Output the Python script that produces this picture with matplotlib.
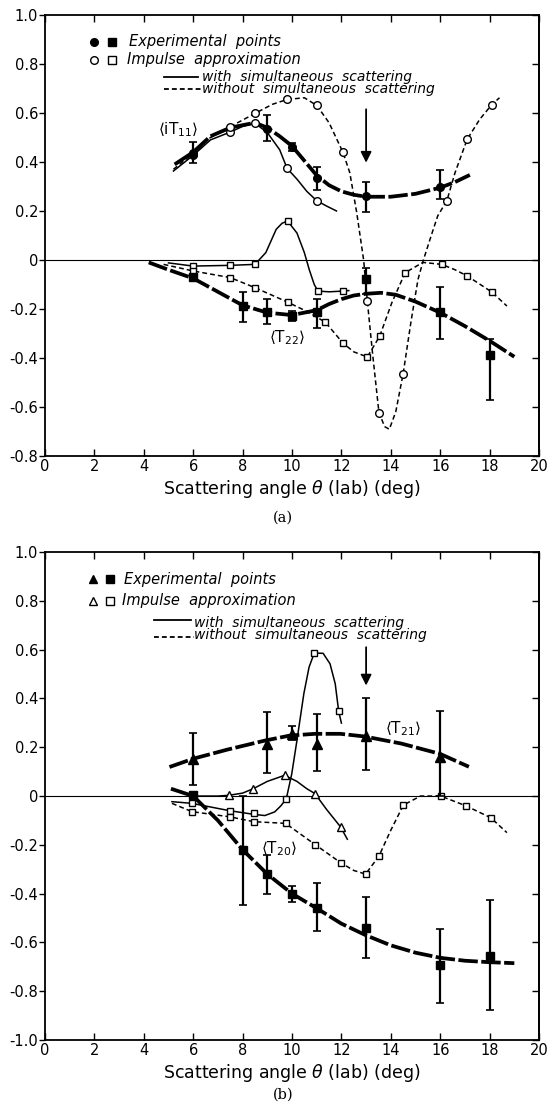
import matplotlib
matplotlib.use("Agg")
from matplotlib import pyplot as plt

plt.rcParams["font.family"] = ["DejaVu Sans"]
plt.rcParams["lines.scale_dashes"] = False
plt.rcParams["mathtext.fontset"] = "dejavusans"

# ---------------- panel (a): <iT11> and <T22> ----------------
it11_x = [6, 9, 10, 11, 13, 16]
it11_y = [0.431, 0.536, 0.462, 0.336, 0.261, 0.299]
it11_lo = [0.036, 0.05, 0.017, 0.05, 0.064, 0.051]
it11_hi = [0.049, 0.054, 0.017, 0.045, 0.057, 0.068]

it11_fit_x = [5.25, 6.0, 6.7, 7.5, 8.5, 9.0, 9.5, 10.0, 10.5, 11.0, 11.5, 12.0, 12.5, 13.0, 14.0, 15.0, 16.0, 16.6, 17.2]
it11_fit_y = [0.39, 0.44, 0.505, 0.54, 0.56, 0.54, 0.505, 0.465, 0.405, 0.345, 0.305, 0.28, 0.266, 0.258, 0.258, 0.27, 0.295, 0.318, 0.347]

it11_ss_x = [5.2, 6.0, 6.7, 7.5, 8.0, 8.5, 9.0, 9.5, 9.8, 10.2, 10.6, 11.0, 11.4, 11.8]
it11_ss_y = [0.363, 0.427, 0.49, 0.522, 0.545, 0.558, 0.52, 0.45, 0.374, 0.33, 0.28, 0.242, 0.22, 0.2]
it11_ss_px = [6, 7.5, 8.5, 9.8, 11.0]
it11_ss_py = [0.427, 0.522, 0.558, 0.374, 0.242]

it11_ns_x = [5.2, 6.0, 6.7, 7.5, 8.5, 9.2, 9.8, 10.5, 11.0, 11.5, 12.06, 12.34, 12.62, 12.9, 13.05, 13.26,
             13.52, 13.75, 13.94, 14.2, 14.5, 14.82, 15.1, 15.32, 15.67, 15.9, 16.27, 16.6, 17.09, 17.6, 18.09, 18.4]
it11_ns_y = [0.37, 0.435, 0.5, 0.544, 0.598, 0.635, 0.655, 0.662, 0.631, 0.56, 0.44, 0.356, 0.193, 0.0, -0.168, -0.38,
             -0.623, -0.68, -0.691, -0.62, -0.464, -0.25, -0.08, 0.0, 0.11, 0.18, 0.242, 0.356, 0.492, 0.574, 0.634, 0.662]
it11_ns_px = [6, 7.5, 8.5, 9.8, 11.0, 12.06, 13.05, 13.52, 14.5, 16.27, 17.09, 18.09]
it11_ns_py = [0.435, 0.544, 0.598, 0.655, 0.631, 0.44, -0.168, -0.623, -0.464, 0.242, 0.492, 0.634]

t22_x = [6, 8, 9, 10, 11, 13, 16, 18]
t22_y = [-0.069, -0.186, -0.211, -0.228, -0.211, -0.079, -0.214, -0.386]
t22_lo = [0.012, 0.066, 0.051, 0.02, 0.065, 0.059, 0.107, 0.185]
t22_hi = [0.012, 0.055, 0.05, 0.02, 0.05, 0.045, 0.104, 0.064]

t22_fit_x = [4.2, 5.0, 6.0, 7.0, 8.0, 9.0, 10.0, 11.0, 11.5, 12.0, 12.5, 13.0, 13.6, 14.2, 15.0, 16.0, 17.0, 18.0, 19.0]
t22_fit_y = [-0.01, -0.04, -0.075, -0.13, -0.185, -0.215, -0.225, -0.205, -0.18, -0.16, -0.145, -0.138, -0.134,
             -0.142, -0.17, -0.215, -0.27, -0.33, -0.395]

t22_ss_x = [5.0, 6.0, 7.5, 8.5, 8.94, 9.36, 9.6, 9.82, 10.2, 10.5, 10.7, 10.9, 11.05, 11.5, 12.06, 12.3]
t22_ss_y = [-0.012, -0.025, -0.022, -0.018, 0.03, 0.125, 0.15, 0.159, 0.11, 0.03, -0.04, -0.1, -0.127, -0.13, -0.127, -0.125]
t22_ss_px = [6, 7.5, 8.5, 9.82, 11.05, 12.06]
t22_ss_py = [-0.025, -0.022, -0.018, 0.159, -0.127, -0.127]

t22_ns_x = [4.8, 6.0, 7.5, 8.5, 9.82, 10.6, 11.35, 12.06, 12.5, 13.05, 13.55, 14.04, 14.58, 15.3, 16.06, 16.6, 17.09, 18.09, 18.7]
t22_ns_y = [-0.018, -0.045, -0.072, -0.113, -0.172, -0.21, -0.254, -0.339, -0.375, -0.396, -0.311, -0.175, -0.052,
            -0.01, -0.018, -0.04, -0.065, -0.131, -0.188]
t22_ns_px = [6.0, 7.5, 8.5, 9.82, 11.35, 12.06, 13.05, 13.55, 14.58, 16.06, 17.09, 18.09]
t22_ns_py = [-0.045, -0.072, -0.113, -0.172, -0.254, -0.339, -0.396, -0.311, -0.052, -0.018, -0.065, -0.131]

# ---------------- panel (b): <T21> and <T20> ----------------
t21_x = [6, 9, 10, 11, 13, 16]
t21_y = [0.153, 0.214, 0.255, 0.214, 0.248, 0.162]
t21_lo = [0.109, 0.12, 0.027, 0.112, 0.14, 0.162]
t21_hi = [0.106, 0.13, 0.034, 0.123, 0.153, 0.185]

t21_fit_x = [5.04, 6.0, 7.37, 8.93, 9.92, 10.93, 11.96, 12.95, 14.43, 15.99, 17.16]
t21_fit_y = [0.119, 0.153, 0.19, 0.228, 0.248, 0.255, 0.255, 0.244, 0.215, 0.173, 0.12]

t21_ss_x = [6.2, 7.0, 7.44, 8.0, 8.43, 9.0, 9.7, 10.2, 10.6, 10.93, 11.4, 11.97, 12.24]
t21_ss_y = [0.0, 0.0, 0.003, 0.012, 0.03, 0.06, 0.085, 0.06, 0.03, 0.01, -0.055, -0.127, -0.177]
t21_ss_px = [7.44, 8.43, 9.7, 10.93, 11.97]
t21_ss_py = [0.003, 0.03, 0.085, 0.01, -0.127]

t20_x = [6, 8, 9, 10, 11, 13, 16, 18]
t20_y = [0.005, -0.222, -0.321, -0.403, -0.457, -0.539, -0.693, -0.656]
t20_lo = [0.012, 0.226, 0.082, 0.032, 0.096, 0.123, 0.155, 0.222]
t20_hi = [0.012, 0.222, 0.078, 0.034, 0.1, 0.125, 0.15, 0.231]

t20_fit_x = [5.1, 6.0, 7.0, 8.0, 9.0, 10.0, 11.0, 12.0, 13.0, 14.0, 15.0, 16.0, 17.0, 18.0, 19.0]
t20_fit_y = [0.03, 0.0, -0.1, -0.22, -0.32, -0.40, -0.46, -0.523, -0.571, -0.612, -0.642, -0.663, -0.675, -0.681, -0.685]

t20_ss_x = [5.14, 5.95, 7.47, 8.45, 8.9, 9.3, 9.55, 9.77, 9.99, 10.2, 10.48, 10.69, 10.9, 11.26, 11.54, 11.75, 11.89, 12.0]
t20_ss_y = [-0.023, -0.03, -0.06, -0.075, -0.08, -0.065, -0.04, -0.011, 0.091, 0.228, 0.42, 0.528, 0.586, 0.585,
            0.542, 0.46, 0.347, 0.299]
t20_ss_px = [5.95, 7.47, 8.45, 9.77, 10.9, 11.89]
t20_ss_py = [-0.03, -0.06, -0.071, -0.011, 0.586, 0.347]

t20_ns_x = [5.14, 5.95, 7.47, 8.45, 9.74, 10.95, 11.97, 12.5, 12.98, 13.52, 14.0, 14.51, 15.2, 16.02, 17.04, 18.05, 18.7]
t20_ns_y = [-0.03, -0.064, -0.085, -0.105, -0.112, -0.2, -0.273, -0.305, -0.32, -0.246, -0.14, -0.037, 0.0, 0.0,
            -0.04, -0.089, -0.15]
t20_ns_px = [5.95, 7.47, 8.45, 9.74, 10.95, 11.97, 12.98, 13.52, 14.51, 16.02, 17.04, 18.05]
t20_ns_py = [-0.064, -0.085, -0.105, -0.112, -0.2, -0.273, -0.32, -0.246, -0.037, 0.0, -0.04, -0.089]

x_ticks = list(range(0, 21, 2))
a_yticks = [1.0, 0.8, 0.6, 0.4, 0.2, 0, -0.2, -0.4, -0.6, -0.8]
b_yticks = [1.0, 0.8, 0.6, 0.4, 0.2, 0, -0.2, -0.4, -0.6, -0.8, -1.0]
arrow_x = 13

FIT = dict(color="k", lw=2.7, ls=(0, (14, 2.5)), solid_capstyle="butt", dash_capstyle="butt", zorder=3)
SOLID = dict(color="k", lw=1.1, zorder=2)
DASH = dict(color="k", lw=1.1, ls=(0, (3.5, 2.2)), zorder=2)
OPEN = dict(ls="none", mfc="white", mec="k", mew=1.0, ms=5.5, zorder=4)
ERR = dict(fmt="none", ecolor="k", elinewidth=1.6, capsize=2.6, capthick=1.2, zorder=5)


def ylab(v):
    return "0" if v == 0 else "%.1f" % v


def frame(ax, ylim, yticks):
    ax.set_xlim(0, 20)
    ax.set_ylim(*ylim)
    ax.set_xticks(x_ticks)
    ax.set_xticklabels([str(t) for t in x_ticks])
    ax.set_yticks(yticks)
    ax.set_yticklabels([ylab(v) for v in yticks])
    ax.tick_params(axis="x", direction="in", top=True, length=5, width=1.0, labelsize=10.5, pad=2)
    ax.tick_params(axis="y", direction="out", length=4, width=1.0, labelsize=10.5, pad=1)
    sec = ax.secondary_yaxis("right")
    sec.set_yticks(yticks)
    sec.tick_params(direction="in", length=5, width=1.0, labelright=False)
    sec.spines["right"].set_linewidth(1.3)
    for s in ax.spines.values():
        s.set_linewidth(1.3)
    ax.axhline(0, color="k", lw=0.8, zorder=1)
    ax.set_xlabel(r"Scattering angle $\theta$ (lab) (deg)", fontsize=12.5, labelpad=3)


def legend(ax, exp_mk, imp_mk, mk_x, txt_x, rows, line_x):
    # legend drawn by hand, positions in axes fractions
    tr = ax.transAxes
    y_exp, y_imp, y_with, y_without = rows
    for m, x in zip(exp_mk, mk_x):
        ax.plot([x], [y_exp], m, color="k", ms=6 if m == "^" else 5.5, transform=tr, clip_on=False)
    for m, x in zip(imp_mk, mk_x):
        ax.plot([x], [y_imp], m, mfc="white", mec="k", mew=1.0, ms=6 if m == "^" else 5.5,
                transform=tr, clip_on=False)
    ax.text(txt_x, y_exp, "Experimental  points", transform=tr, fontsize=10.5, style="italic", va="center")
    ax.text(txt_x - 0.004, y_imp, "Impulse  approximation", transform=tr, fontsize=10.5, style="italic", va="center")
    ax.plot([line_x[0], line_x[1]], [y_with, y_with], transform=tr, color="k", lw=1.3)
    ax.plot([line_x[0], line_x[1] + 0.006], [y_without, y_without], transform=tr, color="k", lw=1.3,
            ls=(0, (3.5, 2.2)))
    ax.text(line_x[2], (y_with + y_without) / 2,
            "with  simultaneous  scattering\nwithout  simultaneous  scattering",
            transform=tr, fontsize=10, style="italic", va="center", ha="left", linespacing=0.82)


fig = plt.figure(figsize=(5.48, 11.07), dpi=100)

# ---- (a)
ax = fig.add_axes([0.0821, 0.5881, 0.9015, 0.3984])
frame(ax, (-0.8, 1.0), a_yticks)

ax.plot(it11_fit_x, it11_fit_y, **FIT)
ax.plot(it11_ss_x, it11_ss_y, **SOLID)
ax.plot(it11_ss_px, it11_ss_py, marker="o", **OPEN)
ax.plot(it11_ns_x, it11_ns_y, **DASH)
ax.plot(it11_ns_px, it11_ns_py, marker="o", **OPEN)
ax.errorbar(it11_x, it11_y, yerr=[it11_lo, it11_hi], **ERR)
ax.plot(it11_x, it11_y, "ko", ms=5.5, zorder=6)

ax.plot(t22_fit_x, t22_fit_y, **FIT)
ax.plot(t22_ss_x, t22_ss_y, **SOLID)
ax.plot(t22_ss_px, t22_ss_py, marker="s", **dict(OPEN, ms=5))
ax.plot(t22_ns_x, t22_ns_y, **DASH)
ax.plot(t22_ns_px, t22_ns_py, marker="s", **dict(OPEN, ms=5))
ax.errorbar(t22_x, t22_y, yerr=[t22_lo, t22_hi], **ERR)
ax.plot(t22_x, t22_y, "ks", ms=5.5, zorder=6)

ax.annotate("", xy=(arrow_x, 0.397), xytext=(arrow_x, 0.615),
            arrowprops=dict(arrowstyle="-|>", color="k", lw=1.3, mutation_scale=16, shrinkA=0, shrinkB=0))
ax.text(5.39, 0.533, r"$\langle \mathrm{iT}_{11} \rangle$", fontsize=11, ha="center", va="center")
ax.text(9.79, -0.318, r"$\langle \mathrm{T}_{22} \rangle$", fontsize=11, ha="center", va="center")
legend(ax, ["o", "s"], ["o", "s"], [0.099, 0.136], 0.170,
       (0.9395, 0.898, 0.860, 0.8315), (0.241, 0.309, 0.318))
fig.text(0.516, 0.532, "(a)", fontsize=10.5, family="DejaVu Serif", ha="center", va="center")

# ---- (b)
bx = fig.add_axes([0.0821, 0.0605, 0.9015, 0.4408])
frame(bx, (-1.0, 1.0), b_yticks)

bx.plot(t21_fit_x, t21_fit_y, **FIT)
bx.plot(t21_ss_x, t21_ss_y, **SOLID)
bx.plot(t21_ss_px, t21_ss_py, marker="^", **dict(OPEN, ms=6))
bx.errorbar(t21_x, t21_y, yerr=[t21_lo, t21_hi], **ERR)
bx.plot(t21_x, t21_y, "k^", ms=7, zorder=6)

bx.plot(t20_fit_x, t20_fit_y, **FIT)
bx.plot(t20_ss_x, t20_ss_y, **SOLID)
bx.plot(t20_ss_px, t20_ss_py, marker="s", **dict(OPEN, ms=5))
bx.plot(t20_ns_x, t20_ns_y, **DASH)
bx.plot(t20_ns_px, t20_ns_py, marker="s", **dict(OPEN, ms=5))
bx.errorbar(t20_x, t20_y, yerr=[t20_lo, t20_hi], **ERR)
bx.plot(t20_x, t20_y, "ks", ms=5.5, zorder=6)

bx.annotate("", xy=(arrow_x, 0.453), xytext=(arrow_x, 0.61),
            arrowprops=dict(arrowstyle="-|>", color="k", lw=1.3, mutation_scale=16, shrinkA=0, shrinkB=0))
bx.text(14.5, 0.276, r"$\langle \mathrm{T}_{21} \rangle$", fontsize=11, ha="center", va="center")
bx.text(9.49, -0.216, r"$\langle \mathrm{T}_{20} \rangle$", fontsize=11, ha="center", va="center")
legend(bx, ["^", "s"], ["^", "s"], [0.097, 0.132], 0.160,
       (0.9447, 0.900, 0.8607, 0.8258), (0.221, 0.295, 0.302))
fig.text(0.516, 0.0045, "(b)", fontsize=10.5, family="DejaVu Serif", ha="center", va="bottom")

fig.savefig("out.png", dpi=100)
